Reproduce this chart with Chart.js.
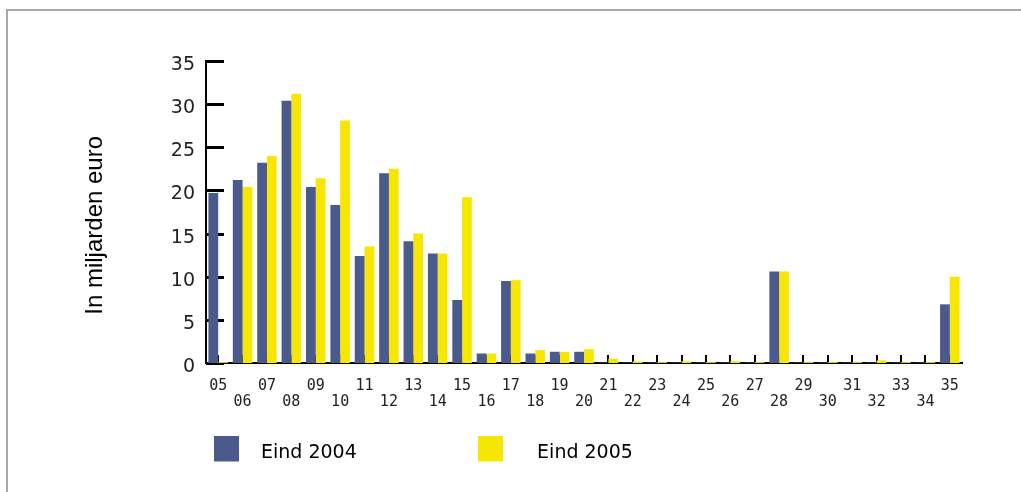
<!DOCTYPE html>
<html>
<head>
<meta charset="utf-8">
<script src="https://cdn.jsdelivr.net/npm/chart.js@4.4.1/dist/chart.umd.min.js"></script>
<style>
  html, body { margin: 0; padding: 0; background: #fff; overflow: hidden; }
  #frame { position: absolute; left: 6px; top: 9px; width: 1200px; height: 700px;
           border-left: 2px solid #a8a8a8; border-top: 2px solid #a8a8a8; }
  #wrap { position: absolute; left: 0; top: 0; width: 1021px; height: 492px; }
</style>
</head>
<body>
<div id="frame"></div>
<div id="wrap"><canvas id="c"></canvas></div>
<script>
const categories = ['05','06','07','08','09','10','11','12','13','14','15','16','17','18','19','20',
                    '21','22','23','24','25','26','27','28','29','30','31','32','33','34','35'];
const eind2004 = [19.7, 21.2, 23.2, 30.4, 20.4, 18.3, 12.4, 22.0, 14.1, 12.7, 7.3, 1.1, 9.5, 1.1, 1.3, 1.3,
                  0.05, 0.05, 0.05, 0.05, 0.05, 0.05, 0.05, 10.6, 0.05, 0.05, 0.05, 0.05, 0.05, 0.05, 6.8];
const eind2005 = [0.1, 20.4, 24.0, 31.2, 21.4, 28.1, 13.5, 22.5, 15.0, 12.7, 19.2, 1.1, 9.6, 1.5, 1.3, 1.6,
                  0.5, 0.2, 0.1, 0.2, 0.1, 0.2, 0.1, 10.6, 0.1, 0.1, 0.1, 0.3, 0.1, 0.1, 10.0];
const seriesNames = ['Eind 2004', 'Eind 2005'];
const seriesColors = ['#4a5a8c', '#f7e600'];
const yTicks = [0, 5, 10, 15, 20, 25, 30, 35];
const yTitle = 'In miljarden euro';

const xLabels = categories.map((c, i) => i % 2 === 0 ? [c] : ['', c]);

// legend swatch: 25x26 box drawn in the upper part of a 25x36 image so it sits above the text centre
function swatch(color) {
  const cv = document.createElement('canvas');
  cv.width = 25; cv.height = 36;
  const g = cv.getContext('2d');
  g.fillStyle = color;
  g.fillRect(0, 0, 25, 26);
  return cv;
}
const swatches = seriesColors.map(swatch);

const innerTicks = {
  id: 'innerTicks',
  beforeDatasetsDraw(chart) {
    const { ctx, chartArea, scales: { x, y } } = chart;
    ctx.save();
    ctx.strokeStyle = '#000';
    ctx.lineWidth = 3;
    y.ticks.forEach((t, i) => {
      const py = Math.round(y.getPixelForTick(i)) + 0.5;
      ctx.beginPath(); ctx.moveTo(chartArea.left, py); ctx.lineTo(chartArea.left + 18, py); ctx.stroke();
    });
    ctx.lineWidth = 2;
    x.ticks.forEach((t, i) => {
      const px = Math.round(x.getPixelForTick(i));
      ctx.beginPath(); ctx.moveTo(px, chartArea.bottom); ctx.lineTo(px, chartArea.bottom - 8); ctx.stroke();
    });
    ctx.restore();
  }
};

const sp = n => ' '.repeat(n);

new Chart(document.getElementById('c'), {
  type: 'bar',
  data: {
    labels: xLabels,
    datasets: [
      { label: seriesNames[0], data: eind2004, backgroundColor: seriesColors[0], borderWidth: 0,
        categoryPercentage: 0.8, barPercentage: 1.0 },
      { label: seriesNames[1], data: eind2005, backgroundColor: seriesColors[1], borderWidth: 0,
        categoryPercentage: 0.8, barPercentage: 1.0 }
    ]
  },
  options: {
    responsive: true,
    maintainAspectRatio: false,
    animation: false,
    layout: { padding: { left: 0, top: 61, right: 59, bottom: 19 } },
    plugins: {
      tooltip: { enabled: false },
      legend: {
        position: 'bottom',
        align: 'center',
        labels: {
          usePointStyle: true,
          pointStyleWidth: 25,
          boxHeight: 19,
          padding: 13,
          color: '#000',
          font: { family: 'DejaVu Sans', size: 19 },
          generateLabels(chart) {
            const items = Chart.defaults.plugins.legend.labels.generateLabels(chart);
            items[0].text = sp(2) + items[0].text + sp(18);
            items[1].text = sp(4) + items[1].text + sp(19);
            items.forEach((it, i) => { it.lineWidth = 0; it.pointStyle = swatches[i]; });
            return items;
          }
        }
      }
    },
    scales: {
      x: {
        grid: { display: false, drawTicks: false },
        border: { display: true, color: '#000', width: 2 },
        ticks: {
          autoSkip: false, maxRotation: 0, minRotation: 0, padding: 15,
          color: '#222',
          font: { family: 'DejaVu Sans Mono', size: 15, lineHeight: '16px' }
        },
        afterFit(scale) { scale.height = 68; }
      },
      y: {
        min: 0, max: 35,
        afterBuildTicks(scale) { scale.ticks = yTicks.map(v => ({ value: v })); },
        grid: { display: false, drawTicks: false },
        border: { display: true, color: '#000', width: 2 },
        ticks: {
          padding: 11, labelOffset: 4, color: '#222',
          font: { family: 'DejaVu Sans', size: 19 }
        },
        title: {
          display: true,
          text: yTitle + sp(4),
          color: '#000',
          font: { family: 'Liberation Sans', size: 24 },
          padding: { top: 81, bottom: 0 }
        },
        afterFit(scale) { scale.width = 206; }
      }
    }
  },
  plugins: [innerTicks]
});
</script>
</body>
</html>
